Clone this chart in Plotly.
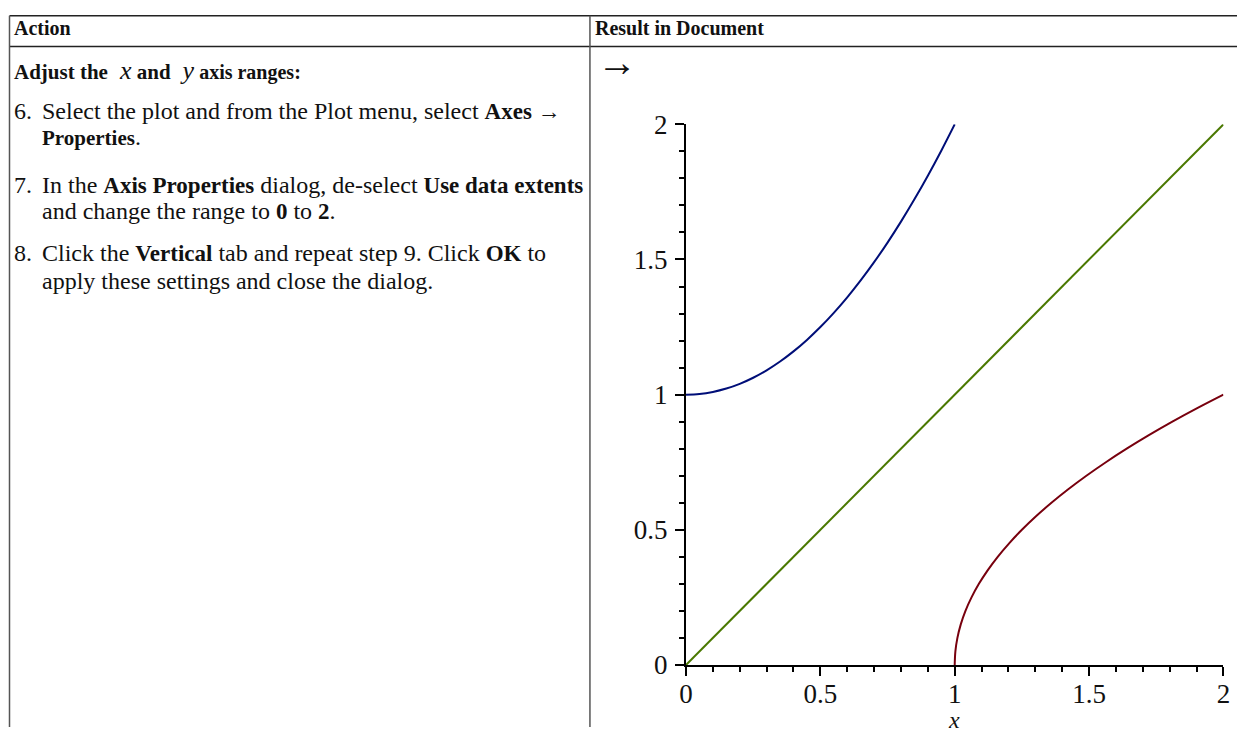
import plotly.graph_objects as go

W, H = 1244, 742

# ---- data ----
blue_x = [0.0, 0.05, 0.1, 0.15, 0.2, 0.25, 0.3, 0.35, 0.4, 0.45, 0.5,
          0.55, 0.6, 0.65, 0.7, 0.75, 0.8, 0.85, 0.9, 0.95, 1.0]
blue_y = [1.0, 1.0025, 1.01, 1.0225, 1.04, 1.0625, 1.09, 1.1225, 1.16, 1.2025, 1.25,
          1.3025, 1.36, 1.4225, 1.49, 1.5625, 1.64, 1.7225, 1.81, 1.9025, 2.0]
red_x = [1.0, 1.0025, 1.01, 1.0225, 1.04, 1.0625, 1.09, 1.1225, 1.16, 1.2025, 1.25,
         1.3025, 1.36, 1.4225, 1.49, 1.5625, 1.64, 1.7225, 1.81, 1.9025, 2.0]
red_y = [0.0, 0.05, 0.1, 0.15, 0.2, 0.25, 0.3, 0.35, 0.4, 0.45, 0.5,
         0.55, 0.6, 0.65, 0.7, 0.75, 0.8, 0.85, 0.9, 0.95, 1.0]
green_x = [0.0, 2.0]
green_y = [0.0, 2.0]
tick_vals = [0, 0.5, 1, 1.5, 2]
tick_text = ["0", "0.5", "1", "1.5", "2"]
x_title = "x"

# map reference-picture pixels to paper coordinates
def px(x):
    return min(max((x - 6.5) / 0.988, 0.5), W) / W

def py(y):
    return 1 - min(max((y - 12.4) / 0.962, 0.75), H) / H

fig = go.Figure()
fig.add_trace(go.Scatter(x=blue_x, y=blue_y, mode="lines", line=dict(color="#000E78", width=2, shape="spline"), showlegend=False))
fig.add_trace(go.Scatter(x=green_x, y=green_y, mode="lines", line=dict(color="#4A7800", width=2), showlegend=False))
fig.add_trace(go.Scatter(x=red_x, y=red_y, mode="lines", line=dict(color="#78000E", width=2, shape="spline"), showlegend=False))

tickfont = dict(family="Liberation Serif", size=27, color="#111")
fig.update_layout(
    width=W, height=H, margin=dict(l=0, r=0, t=0, b=0),
    paper_bgcolor="white", plot_bgcolor="white",
    font=dict(family="Liberation Serif", color="#111"),
    xaxis=dict(domain=[px(685), px(1222)], range=[0, 2], showgrid=False, zeroline=False,
               showline=True, linecolor="black", linewidth=2,
               tickmode="array", tickvals=tick_vals, ticktext=tick_text,
               ticks="outside", ticklen=9, tickwidth=1.5, tickcolor="black", tickfont=tickfont,
               ticklabelstandoff=-5,
               minor=dict(dtick=0.1, ticks="outside", ticklen=5, tickwidth=1.5, tickcolor="black", showgrid=False),
               fixedrange=True),
    yaxis=dict(domain=[py(664), py(122)], range=[0, 2], showgrid=False, zeroline=False,
               showline=True, linecolor="black", linewidth=2,
               tickmode="array", tickvals=tick_vals, ticktext=tick_text,
               ticks="outside", ticklen=9, tickwidth=1.5, tickcolor="black", tickfont=tickfont,
               ticklabelstandoff=2,
               minor=dict(dtick=0.1, ticks="outside", ticklen=5, tickwidth=1.5, tickcolor="black", showgrid=False),
               fixedrange=True),
)

# table lines
line_dark = dict(color="#222", width=1.5)
line_grey = dict(color="#555", width=1.5)
shapes = [
    dict(type="line", xref="paper", yref="paper", x0=px(9), x1=1, y0=py(10), y1=py(10), line=line_dark),
    dict(type="line", xref="paper", yref="paper", x0=px(9), x1=1, y0=py(44), y1=py(44), line=line_dark),
    dict(type="line", xref="paper", yref="paper", x0=px(9), x1=px(9), y0=py(10), y1=0, line=line_grey),
    dict(type="line", xref="paper", yref="paper", x0=px(589), x1=px(589), y0=py(10), y1=0, line=line_grey),
]
fig.update_layout(shapes=shapes)

def B(t, s=23):
    return '<span style="font-size:%dpx"><b>%s</b></span>' % (s, t)

def I(t, s=26):
    return '<span style="font-size:%dpx"><i>%s</i></span>' % (s, t)

FS = 24
texts = [
    (11, 25, B("Action", 20), FS, "left"),
    (592, 25, B("Result in Document", 20), FS, "left"),
    (11, 68, B("Adjust the", 21.5) + "&nbsp; " + I("x") + B(" and", 21) + "&nbsp; " + I("y") + B(" axis ranges:", 20.5), FS, "left"),
    (11, 109, "6.", FS, "left"),
    (39, 109, "Select the plot and from the Plot menu, select " + B("Axes →"), FS, "left"),
    (39, 135, B("Properties", 21) + ".", FS, "left"),
    (11, 183, "7.", FS, "left"),
    (39, 183, "In the " + B("Axis Properties") + " dialog, de-select " + B("Use data extents"), FS, "left"),
    (39, 209, "and change the range to " + B("0") + " to " + B("2") + ".", FS, "left"),
    (11, 251, "8.", FS, "left"),
    (39, 251, "Click the " + B("Vertical") + " tab and repeat step 9. Click " + B("OK") + " to", FS, "left"),
    (39, 279, "apply these settings and close the dialog.", FS, "left"),
    (594, 60, "→", 40, "left"),
    (953, 719, "<i>%s</i>" % x_title, 24, "center"),
]
anns = []
for x, y, t, fs, anc in texts:
    anns.append(dict(xref="paper", yref="paper", x=px(x), y=py(y), text=t, showarrow=False,
                     xanchor=anc, yanchor="middle",
                     font=dict(family="Liberation Serif", size=fs, color="#111")))
fig.update_layout(annotations=anns)

fig.write_html("out.html", config={"displayModeBar": False},
               post_script="document.body.style.margin='0';document.body.style.overflow='hidden';")
